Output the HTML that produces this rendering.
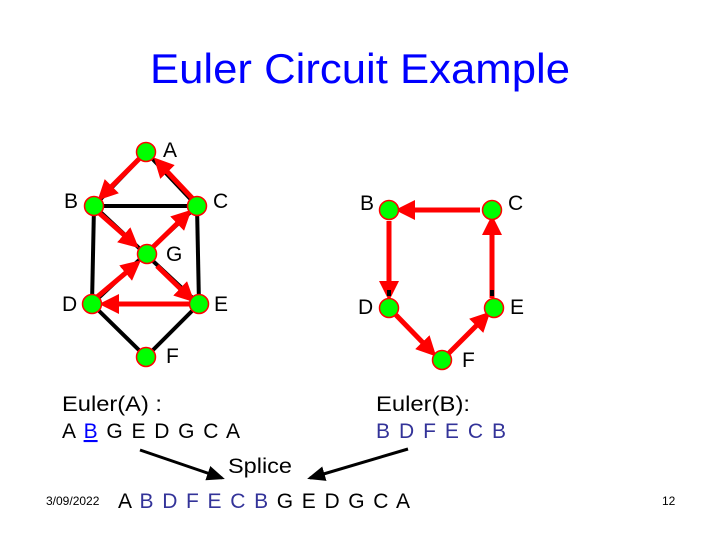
<!DOCTYPE html>
<html><head><style>body{margin:0;background:#fff}svg{display:block}</style></head><body>
<svg width="720" height="540" viewBox="0 0 720 540" font-family="Liberation Sans, sans-serif">
<defs>
<marker id="r" markerWidth="4" markerHeight="4" refX="2.2" refY="2" orient="auto"><path d="M0,0 L4,2 L0,4 z" fill="#f00"/></marker>
<marker id="k" markerWidth="6" markerHeight="6" refX="5" refY="3" orient="auto"><path d="M0,0.5 L6,3 L0,5.5 z" fill="#000"/></marker>
</defs>
<text x="150" y="83" font-size="42" fill="#00f" textLength="420" lengthAdjust="spacingAndGlyphs">Euler Circuit Example</text>
<g stroke="#000" stroke-width="4">
<line x1="146" y1="152" x2="197" y2="206"/><line x1="146" y1="152" x2="94" y2="206"/>
<line x1="94" y1="206" x2="197" y2="206"/><line x1="94" y1="206" x2="92" y2="304"/>
<line x1="197" y1="206" x2="199" y2="304"/><line x1="94" y1="206" x2="199" y2="304"/>
<line x1="197" y1="206" x2="92" y2="304"/><line x1="92" y1="304" x2="146" y2="357"/>
<line x1="199" y1="304" x2="146" y2="357"/>
</g>
<g stroke="#f00" stroke-width="5" marker-end="url(#r)">
<line x1="139" y1="159" x2="104" y2="194"/>
<line x1="98" y1="212" x2="132" y2="242"/>
<line x1="157" y1="266" x2="188" y2="296"/>
<line x1="190" y1="304" x2="108" y2="304"/>
<line x1="97" y1="297" x2="134" y2="266"/>
<line x1="152" y1="248" x2="185" y2="216"/>
<line x1="193" y1="199" x2="160" y2="164"/>
<line x1="480" y1="210" x2="404" y2="210"/>
<line x1="389" y1="221" x2="389" y2="292"/>
<line x1="396" y1="315" x2="430" y2="350"/>
<line x1="449" y1="353" x2="484" y2="318"/>
<line x1="492" y1="298" x2="492" y2="224"/>
</g>
<line x1="389" y1="290" x2="389" y2="296" stroke="#000" stroke-width="4"/>
<line x1="492" y1="290" x2="492" y2="296" stroke="#000" stroke-width="4"/>
<g fill="#0f0" stroke="#f00" stroke-width="1.5">
<circle cx="146" cy="152" r="9.5"/><circle cx="94" cy="206" r="9.5"/><circle cx="197" cy="206" r="9.5"/>
<circle cx="147" cy="254" r="9.5"/><circle cx="92" cy="304" r="9.5"/><circle cx="199" cy="304" r="9.5"/>
<circle cx="146" cy="357" r="9.5"/>
<circle cx="389" cy="210" r="9.5"/><circle cx="492" cy="210" r="9.5"/><circle cx="389" cy="308" r="9.5"/>
<circle cx="494" cy="308" r="9.5"/><circle cx="442" cy="360" r="9.5"/>
</g>
<g font-size="21" fill="#000">
<text x="163" y="157">A</text><text x="64" y="208">B</text><text x="213" y="208">C</text>
<text x="166" y="261">G</text><text x="62" y="311">D</text><text x="214" y="311">E</text>
<text x="166" y="363">F</text>
<text x="360" y="210">B</text><text x="508" y="210">C</text><text x="358" y="314">D</text>
<text x="510" y="314">E</text><text x="462" y="367">F</text>
<text x="62" y="411" textLength="100" lengthAdjust="spacingAndGlyphs">Euler(A) :</text>
<text x="376" y="411" textLength="94" lengthAdjust="spacingAndGlyphs">Euler(B):</text>
<text x="62" y="438" textLength="178">A <tspan fill="#00f" text-decoration="underline">B</tspan> G E D G C A</text>
<text x="376" y="438" fill="#333399" textLength="130">B D F E C B</text>
<text x="228" y="473" textLength="64" lengthAdjust="spacingAndGlyphs">Splice</text>
<text x="118" y="508" textLength="292">A <tspan fill="#333399">B D F E C B</tspan> G E D G C A</text>
</g>
<line x1="140" y1="450" x2="222" y2="478" stroke="#000" stroke-width="3" marker-end="url(#k)"/>
<line x1="408" y1="449" x2="310" y2="478" stroke="#000" stroke-width="3" marker-end="url(#k)"/>
<text x="46" y="505" font-size="12">3/09/2022</text>
<text x="662" y="505" font-size="12">12</text>
</svg>
</body></html>
